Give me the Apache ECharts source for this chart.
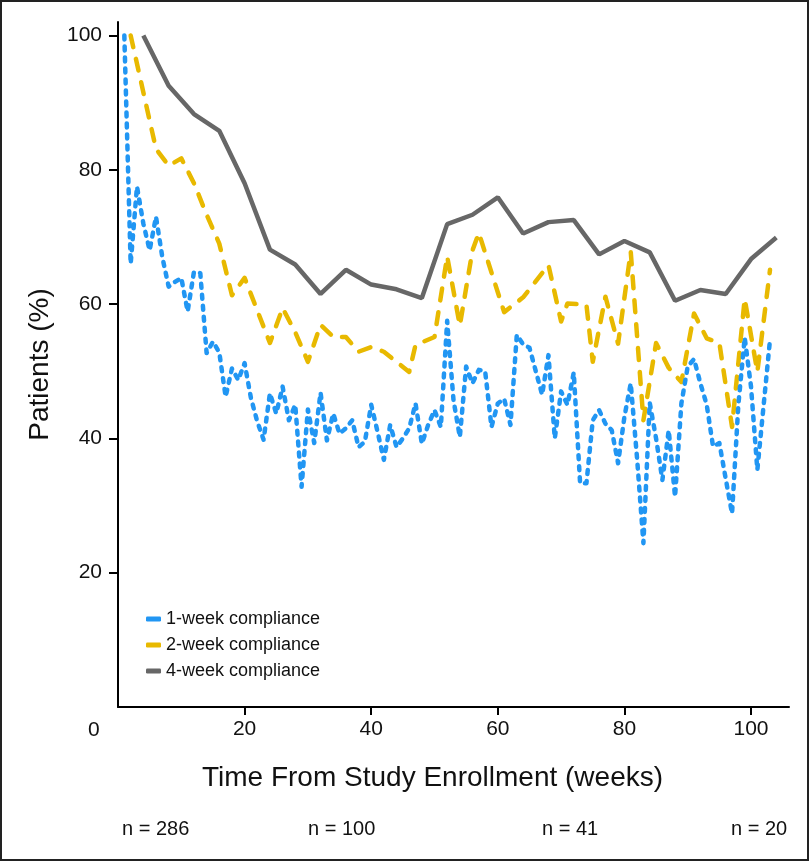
<!DOCTYPE html>
<html>
<head>
<meta charset="utf-8">
<script src="https://cdn.jsdelivr.net/npm/echarts@6/dist/echarts.min.js"></script>
<style>
html,body{margin:0;padding:0;background:#fff;}
#main{width:809px;height:861px;}
</style>
</head>
<body>
<div id="main"></div>
<script>
// 1-week compliance, one value per week starting at week 1
var oneWeek = [100, 66, 77.5, 72, 68, 73, 67, 62.6, 63.3, 63.9,
  58.9, 64.8, 64.6, 52.7, 54.4, 52.8, 46.2, 50.4, 48.7, 51.2,
  46, 42.5, 39.8, 46.7, 43.7, 47.7, 42.7, 45, 32.8, 44.3,
  39.3, 46.8, 39.7, 43.7, 40.7, 41.5, 42.7, 38.7, 39.5, 45,
  41, 36.8, 42, 38.7, 40, 41.5, 45.2, 39.2, 42, 44.2,
  41.7, 57.5, 45.7, 40.2, 50.7, 48.2, 50.2, 50, 41.7, 45.2,
  45.9, 42, 55.4, 54, 53.5, 50, 46.5, 52.4, 40, 47,
  45, 49.8, 33.3, 33.3, 42.7, 44.2, 42.2, 41.2, 36.3, 43.2,
  48.2, 37, 24.4, 45.3, 40, 33.8, 41.2, 31.3, 45.2, 50.7,
  51.8, 48.2, 45, 38.8, 39.3, 34, 28.8, 45, 55, 47.7,
  35.3, 45, 54.7];

// 2-week compliance
var twoWeekWeeks = [2, 6, 8, 10, 12, 14, 16, 18, 20, 24, 26, 28, 30, 32, 34, 36, 38, 40, 42, 46,
  47, 50, 52, 54, 56, 57, 61, 64, 68, 70, 71, 74, 75, 77, 79, 81, 83, 85, 87, 89,
  91, 93, 95, 97, 99, 101, 103];
var twoWeek = [100, 83.1, 80.6, 81.7, 78, 73.3, 69, 61.3, 63.9, 54.2, 59.4, 55.8, 51.4, 56.9, 55.1, 55.1, 52.9, 53.6, 52.9, 49.9,
  53.9, 55.1, 67.1, 56.8, 68, 70.6, 58.8, 61, 65.8, 57.4, 60.1, 59.9, 51.4, 61.1, 54.1, 67.8, 42.7, 54.2, 50.5, 48.4,
  58.6, 54.9, 54.2, 41.7, 60.8, 49.9, 65.1];

// 4-week compliance
var fourWeekWeeks = [4, 8, 12, 16, 20, 24, 28, 32, 36, 40, 44, 48, 52, 56, 60, 64, 68, 72, 76, 80, 84, 88, 92, 96, 100, 104];
var fourWeek = [100, 92.5, 88.3, 85.8, 78, 68.1, 65.9, 61.5, 65.1, 62.9, 62.2, 60.9, 71.9, 73.3, 75.9, 70.5, 72.2, 72.5, 67.4, 69.4,
  67.7, 60.5, 62.1, 61.5, 66.7, 69.9];

var seriesNames = ['1-week compliance', '2-week compliance', '4-week compliance'];
var tickValues = [20, 40, 60, 80, 100];
var nLabels = ['n = 286', 'n = 100', 'n = 41', 'n = 20'];

var font = '"Liberation Sans", Arial, Helvetica, sans-serif';

function pairs(xs, ys) {
  return ys.map(function (v, i) { return [xs ? xs[i] : i + 1, v]; });
}

var myChart = echarts.init(document.getElementById('main'));

myChart.setOption({
  animation: false,
  textStyle: { fontFamily: font },
  grid: { left: 118, right: 20, top: 22, bottom: 154 },
  legend: {
    orient: 'vertical',
    left: 141,
    top: 605,
    icon: 'roundRect',
    itemWidth: 15,
    itemHeight: 5,
    itemGap: 8,
    textStyle: { fontFamily: font, fontSize: 18, color: '#111', lineHeight: 18 },
    data: seriesNames
  },
  xAxis: {
    type: 'value',
    min: 0,
    max: 106,
    interval: 20,
    name: 'Time From Study Enrollment (weeks)',
    nameLocation: 'middle',
    nameGap: 57,
    nameTextStyle: { fontSize: 28, color: '#111', fontFamily: font, padding: [0, 42, 0, 0] },
    splitLine: { show: false },
    axisLine: { onZero: false, lineStyle: { color: '#000', width: 2 } },
    axisTick: { length: 8, customValues: tickValues, lineStyle: { color: '#000', width: 2 } },
    axisLabel: { customValues: tickValues, fontSize: 21, color: '#111', margin: 12 }
  },
  yAxis: {
    type: 'value',
    min: 0,
    max: 102,
    interval: 20,
    name: 'Patients (%)',
    nameLocation: 'middle',
    nameGap: 64,
    nameTextStyle: { fontSize: 28, color: '#111', fontFamily: font },
    splitLine: { show: false },
    axisLine: { show: true, onZero: false, lineStyle: { color: '#000', width: 2 } },
    axisTick: { show: true, length: 9, customValues: tickValues, lineStyle: { color: '#000', width: 2 } },
    axisLabel: { customValues: tickValues, fontSize: 21, color: '#111', margin: 16 }
  },
  graphic: [
    { type: 'rect', shape: { x: 1, y: 1, width: 807, height: 859 }, style: { fill: 'none', stroke: '#222', lineWidth: 2 }, silent: true },
    { type: 'text', left: 88, top: 720, style: { text: '0', fill: '#111', font: '21px ' + font } },
    { type: 'text', left: 122, top: 819, style: { text: nLabels[0], fill: '#111', font: '20px ' + font } },
    { type: 'text', left: 308, top: 819, style: { text: nLabels[1], fill: '#111', font: '20px ' + font } },
    { type: 'text', left: 542, top: 819, style: { text: nLabels[2], fill: '#111', font: '20px ' + font } },
    { type: 'text', left: 731, top: 819, style: { text: nLabels[3], fill: '#111', font: '20px ' + font } }
  ],
  series: [
    {
      name: seriesNames[0],
      type: 'line',
      symbol: 'none',
      color: '#2196f3',
      itemStyle: { color: '#2196f3' },
      lineStyle: { color: '#2196f3', width: 4.5, type: [4, 7], cap: 'round', join: 'round' },
      data: pairs(null, oneWeek),
      z: 3
    },
    {
      name: seriesNames[1],
      type: 'line',
      symbol: 'none',
      color: '#e8b900',
      itemStyle: { color: '#e8b900' },
      lineStyle: { color: '#e8b900', width: 4.5, type: [12, 12], cap: 'round', join: 'round' },
      data: pairs(twoWeekWeeks, twoWeek),
      z: 2
    },
    {
      name: seriesNames[2],
      type: 'line',
      symbol: 'none',
      color: '#676767',
      itemStyle: { color: '#676767' },
      lineStyle: { color: '#676767', width: 4.5 },
      data: pairs(fourWeekWeeks, fourWeek),
      z: 2
    }
  ]
});
</script>
</body>
</html>
